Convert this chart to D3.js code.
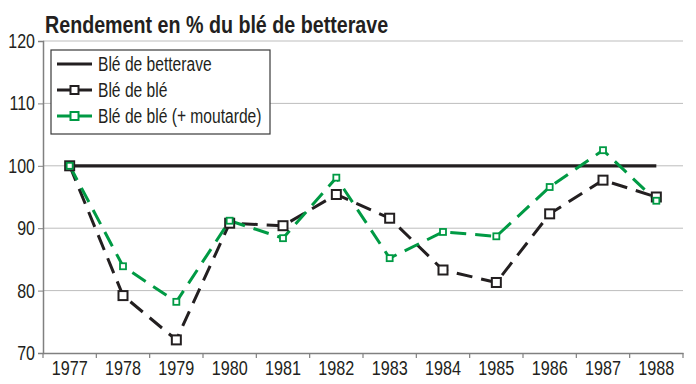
<!DOCTYPE html>
<html>
<head>
<meta charset="utf-8">
<script src="https://cdn.jsdelivr.net/npm/d3@7"></script>
<style>
  body { margin: 0; background: #fff; }
  text { font-family: "Liberation Sans", Arial, sans-serif; fill: #231f20; }
</style>
</head>
<body>
<div id="chart"></div>
<script>
// data
var years = ["1977","1978","1979","1980","1981","1982","1983","1984","1985","1986","1987","1988"];
var betterave = [100,100,100,100,100,100,100,100,100,100,100,100];
var bleDeBle = [100,79.2,72.1,90.8,90.4,95.4,91.6,83.3,81.3,92.3,97.7,95.0];
var bleMoutarde = [100,83.9,78.2,91.2,88.4,98.1,85.2,89.4,88.7,96.6,102.5,94.4];
var yTicks = [70,80,90,100,110,120];

var width = 696, height = 384;
var margin = {top: 41, right: 13, bottom: 31, left: 43};

var svg = d3.select("#chart").append("svg")
  .attr("width", width)
  .attr("height", height);

var x = d3.scaleBand().domain(years)
  .range([margin.left, width - margin.right]);
var y = d3.scaleLinear().domain([70, 120])
  .range([height - margin.bottom, margin.top]);

// squeeze text horizontally to mimic a condensed face
function condense(sel, k) {
  sel.each(function() {
    var w = this.getComputedTextLength();
    d3.select(this).attr("textLength", w * k).attr("lengthAdjust", "spacingAndGlyphs");
  });
}

// gridlines
svg.append("g")
  .selectAll("line")
  .data(yTicks.slice(1))
  .enter().append("line")
  .attr("x1", margin.left).attr("x2", width - margin.right)
  .attr("y1", function(d){ return y(d); })
  .attr("y2", function(d){ return y(d); })
  .attr("stroke", "#bdbdbd").attr("stroke-width", 1);

// y axis
var yAxis = svg.append("g")
  .attr("transform", "translate(" + margin.left + ",0)")
  .call(d3.axisLeft(y).tickValues(yTicks).tickSize(5).tickPadding(3));
yAxis.select(".domain").attr("stroke", "#808080").attr("stroke-width", 1.5);
yAxis.selectAll(".tick line").attr("stroke", "#808080");
yAxis.selectAll("text").style("font-size", "20px").attr("fill", "#231f20").call(condense, 0.8);

// x axis, ticks at band edges
var xAxis = svg.append("g")
  .attr("transform", "translate(0," + (height - margin.bottom) + ")")
  .call(d3.axisBottom(x).tickSize(0).tickPadding(8));
xAxis.select(".domain").attr("stroke", "#808080").attr("stroke-width", 1.5);
xAxis.selectAll("text").style("font-size", "20px").attr("fill", "#231f20").call(condense, 0.81);
xAxis.selectAll(".edge")
  .data(years.concat(["end"]))
  .enter().append("line")
  .attr("x1", function(d, i){ return margin.left + i * x.step(); })
  .attr("x2", function(d, i){ return margin.left + i * x.step(); })
  .attr("y1", 0).attr("y2", 5)
  .attr("stroke", "#808080").attr("stroke-width", 1.2);

var cx = function(d, i){ return x(years[i]) + x.bandwidth() / 2; };
var line = d3.line().x(cx).y(function(d){ return y(d); });

// betterave reference line
svg.append("path").datum(betterave)
  .attr("d", line).attr("fill", "none")
  .attr("stroke", "#231f20").attr("stroke-width", 3.2);

// blé de blé
svg.append("path").datum(bleDeBle)
  .attr("d", line).attr("fill", "none")
  .attr("stroke", "#231f20").attr("stroke-width", 3)
  .attr("stroke-dasharray", "16,9");

// blé de blé + moutarde
svg.append("path").datum(bleMoutarde)
  .attr("d", line).attr("fill", "none")
  .attr("stroke", "#009a44").attr("stroke-width", 3)
  .attr("stroke-dasharray", "16,9");

svg.append("g").selectAll("rect")
  .data(bleDeBle).enter().append("rect")
  .attr("x", function(d, i){ return cx(d, i) - 4.5; })
  .attr("y", function(d){ return y(d) - 4.5; })
  .attr("width", 9).attr("height", 9)
  .attr("fill", "#fff").attr("stroke", "#231f20").attr("stroke-width", 2);

svg.append("g").selectAll("rect")
  .data(bleMoutarde).enter().append("rect")
  .attr("x", function(d, i){ return cx(d, i) - 3; })
  .attr("y", function(d){ return y(d) - 3; })
  .attr("width", 6).attr("height", 6)
  .attr("fill", "#fff").attr("stroke", "#009a44").attr("stroke-width", 1.8);

// title
svg.append("text")
  .attr("x", 45).attr("y", 33)
  .style("font-size", "23px").style("font-weight", "bold")
  .text("Rendement en % du blé de betterave")
  .call(condense, 0.855);

// legend
var legend = svg.append("g").attr("transform", "translate(51,50)");
legend.append("rect")
  .attr("width", 219).attr("height", 84)
  .attr("fill", "#fff").attr("stroke", "#3a3a3a").attr("stroke-width", 1.2);

var legendItems = [
  {label: "Blé de betterave", color: "#231f20", marker: false},
  {label: "Blé de blé", color: "#231f20", marker: true},
  {label: "Blé de blé (+ moutarde)", color: "#009a44", marker: true}
];
var li = legend.selectAll(".item").data(legendItems).enter().append("g")
  .attr("transform", function(d, i){ return "translate(0," + (14 + i * 26) + ")"; });
li.append("line")
  .attr("x1", 6).attr("x2", 41).attr("y1", 0).attr("y2", 0)
  .attr("stroke", function(d){ return d.color; }).attr("stroke-width", 3);
li.filter(function(d){ return d.marker; }).append("rect")
  .attr("x", 19.5).attr("y", -4).attr("width", 8).attr("height", 8)
  .attr("fill", "#fff").attr("stroke", function(d){ return d.color; }).attr("stroke-width", 2);
li.append("text")
  .attr("x", 47).attr("y", 7)
  .style("font-size", "20px")
  .text(function(d){ return d.label; })
  .call(condense, 0.78);
</script>
</body>
</html>
